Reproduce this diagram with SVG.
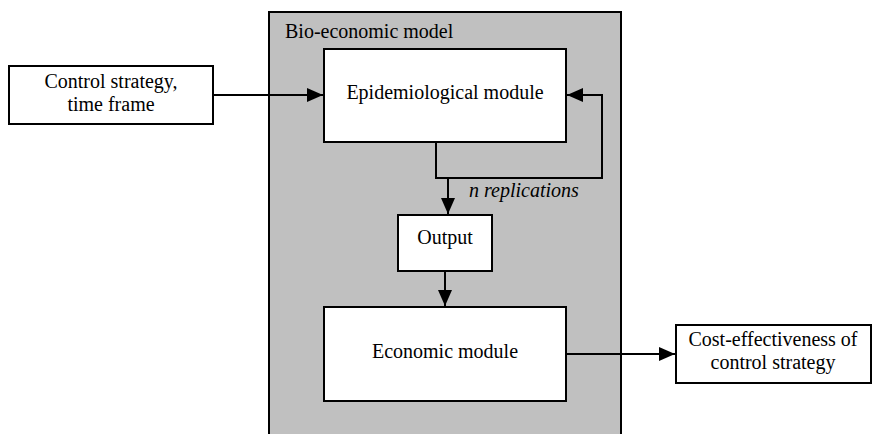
<svg xmlns="http://www.w3.org/2000/svg" width="872" height="434" viewBox="0 0 872 434">
<defs>
<style>
.box{fill:#fff;stroke:#000;stroke-width:2}
.t{font-family:'Liberation Serif','Times New Roman',serif;font-size:20px;fill:#000}
.c{text-anchor:middle}
.ln{fill:none;stroke:#000;stroke-width:2}
</style>
<marker id="ah" markerWidth="16" markerHeight="14" refX="16" refY="7" orient="auto" markerUnits="userSpaceOnUse">
<path d="M0,0 L16,7 L0,14 Z" fill="#000"/>
</marker>
</defs>
<rect width="872" height="434" fill="#fff"/>
<g id="model">
<path d="M269,436 V12 H621 V436" fill="#c0c0c0" stroke="#000" stroke-width="2"/>
<text class="t" x="285" y="38">Bio-economic model</text>
</g>
<g id="input">
<rect class="box" x="9" y="66" width="204" height="58"/>
<text class="t c" x="111" y="88">Control strategy,</text>
<text class="t c" x="111" y="111">time frame</text>
</g>
<g id="epi">
<rect class="box" x="324" y="49" width="242" height="93"/>
<text class="t c" x="445" y="99">Epidemiological module</text>
</g>
<g id="output">
<rect class="box" x="398" y="215" width="94" height="56"/>
<text class="t c" x="445" y="244">Output</text>
</g>
<g id="econ">
<rect class="box" x="324" y="307" width="242" height="94"/>
<text class="t c" x="445" y="358">Economic module</text>
</g>
<g id="result">
<rect class="box" x="676" y="325" width="195" height="58"/>
<text class="t c" x="773" y="346">Cost-effectiveness of</text>
<text class="t c" x="773" y="369">control strategy</text>
</g>
<g id="connectors">
<path class="ln" d="M213,95 H323" marker-end="url(#ah)"/>
<path class="ln" d="M436,142 V178 H602 V95 H567" marker-end="url(#ah)"/>
<path class="ln" d="M448,178 V214" marker-end="url(#ah)"/>
<text class="t" x="469" y="197" font-style="italic">n replications</text>
<path class="ln" d="M445,271 V306" marker-end="url(#ah)"/>
<path class="ln" d="M566,354 H675" marker-end="url(#ah)"/>
</g>
</svg>
